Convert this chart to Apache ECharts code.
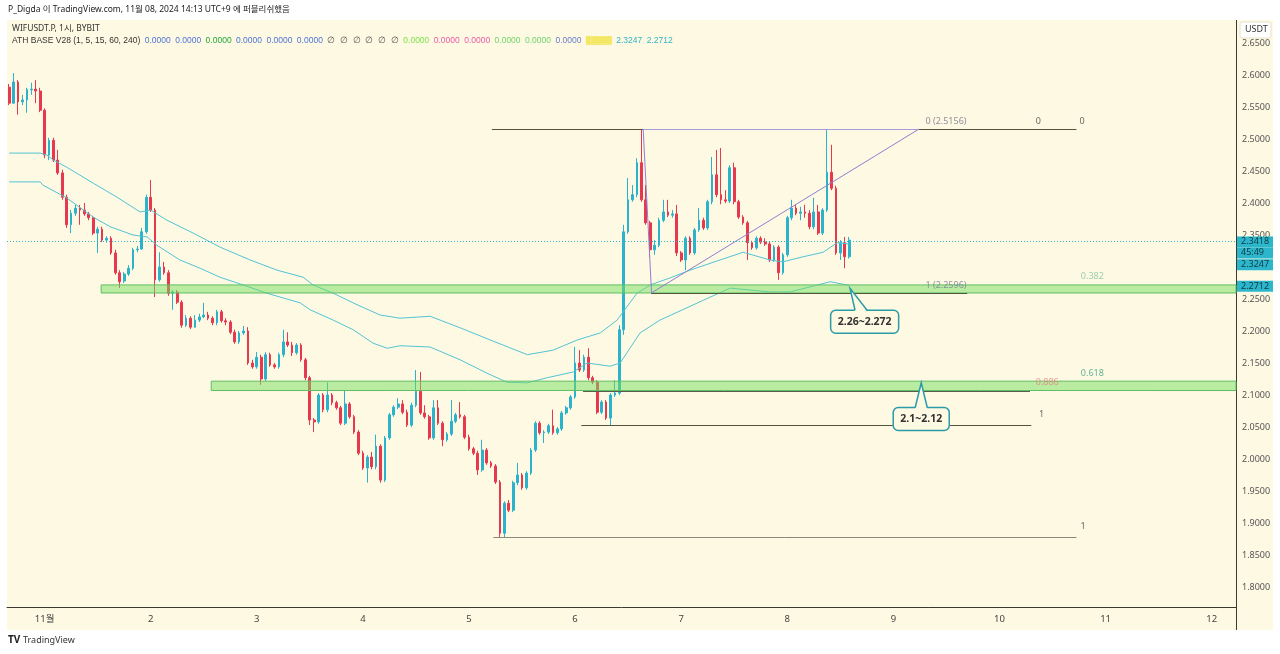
<!DOCTYPE html>
<html>
<head>
<meta charset="utf-8">
<script src="https://cdn.jsdelivr.net/npm/echarts@6/dist/echarts.min.js"></script>
<style>
  html, body { margin: 0; padding: 0; background: #fff; }
  #chart { width: 1280px; height: 654px; }
</style>
</head>
<body>
<div id="chart"></div>
<script>
const FONT = '"Noto Sans", "Noto Sans CJK KR", sans-serif';
const CREAM = '#fdf9e3';
const UP = '#2bb3cc';
const DOWN = '#e6394f';

// x slots: hourly, first slot = Oct 31 16:00 (UTC+9), Nov 1 00:00 is slot 8
const slotCount = 278;
const firstMidnight = 8;
const dayLabels = ['11월', '2', '3', '4', '5', '6', '7', '8', '9', '10', '11', '12'];
const priceTicks = [1.80, 1.85, 1.90, 1.95, 2.00, 2.05, 2.10, 2.15, 2.20, 2.25, 2.30, 2.35, 2.40, 2.45, 2.50, 2.55, 2.60, 2.65];

// WIFUSDT.P 1h candles [open, close, low, high]
const candles = [
  [2.581, 2.556, 2.553, 2.586], [2.556, 2.589, 2.555, 2.603], [2.589, 2.558, 2.538, 2.592], [2.558, 2.561, 2.553, 2.569],
  [2.561, 2.577, 2.541, 2.580], [2.577, 2.578, 2.569, 2.588], [2.578, 2.575, 2.556, 2.592], [2.575, 2.545, 2.542, 2.580],
  [2.545, 2.475, 2.470, 2.548], [2.475, 2.498, 2.467, 2.502], [2.498, 2.467, 2.464, 2.502], [2.467, 2.447, 2.444, 2.483],
  [2.447, 2.409, 2.405, 2.452], [2.409, 2.366, 2.361, 2.413], [2.366, 2.384, 2.353, 2.389], [2.384, 2.392, 2.380, 2.397],
  [2.392, 2.389, 2.366, 2.397], [2.389, 2.383, 2.380, 2.400], [2.383, 2.377, 2.373, 2.386], [2.377, 2.353, 2.350, 2.380],
  [2.353, 2.359, 2.322, 2.363], [2.359, 2.342, 2.339, 2.363], [2.342, 2.345, 2.338, 2.348], [2.345, 2.322, 2.319, 2.348],
  [2.322, 2.291, 2.288, 2.327], [2.291, 2.277, 2.267, 2.295], [2.278, 2.289, 2.275, 2.292], [2.289, 2.298, 2.286, 2.303],
  [2.298, 2.327, 2.295, 2.330], [2.327, 2.328, 2.323, 2.333], [2.328, 2.355, 2.327, 2.361], [2.355, 2.409, 2.352, 2.413],
  [2.409, 2.389, 2.386, 2.436], [2.389, 2.280, 2.253, 2.392], [2.280, 2.300, 2.277, 2.323], [2.300, 2.291, 2.288, 2.308],
  [2.291, 2.259, 2.255, 2.295], [2.259, 2.261, 2.233, 2.264], [2.261, 2.245, 2.242, 2.264], [2.245, 2.209, 2.205, 2.248],
  [2.209, 2.220, 2.206, 2.225], [2.220, 2.206, 2.203, 2.223], [2.206, 2.217, 2.205, 2.225], [2.217, 2.222, 2.214, 2.227],
  [2.222, 2.225, 2.220, 2.244], [2.225, 2.220, 2.217, 2.230], [2.220, 2.213, 2.209, 2.223], [2.213, 2.230, 2.209, 2.233],
  [2.230, 2.216, 2.213, 2.233], [2.216, 2.214, 2.209, 2.220], [2.214, 2.198, 2.195, 2.217], [2.198, 2.183, 2.180, 2.202],
  [2.183, 2.197, 2.180, 2.200], [2.197, 2.200, 2.194, 2.208], [2.200, 2.150, 2.147, 2.206], [2.150, 2.144, 2.141, 2.155],
  [2.144, 2.159, 2.141, 2.167], [2.159, 2.125, 2.116, 2.163], [2.125, 2.163, 2.122, 2.167], [2.163, 2.147, 2.144, 2.166],
  [2.147, 2.144, 2.141, 2.150], [2.144, 2.163, 2.141, 2.166], [2.163, 2.183, 2.159, 2.202], [2.183, 2.178, 2.175, 2.198],
  [2.178, 2.166, 2.161, 2.183], [2.166, 2.178, 2.163, 2.181], [2.178, 2.155, 2.152, 2.181], [2.155, 2.127, 2.123, 2.158],
  [2.127, 2.061, 2.053, 2.130], [2.061, 2.058, 2.042, 2.064], [2.058, 2.100, 2.055, 2.103], [2.100, 2.077, 2.073, 2.103],
  [2.077, 2.100, 2.073, 2.120], [2.100, 2.088, 2.084, 2.103], [2.088, 2.080, 2.077, 2.091], [2.080, 2.056, 2.053, 2.083],
  [2.056, 2.086, 2.053, 2.108], [2.086, 2.066, 2.063, 2.089], [2.066, 2.042, 2.039, 2.069], [2.042, 2.009, 2.006, 2.045],
  [2.009, 1.986, 1.983, 2.013], [1.986, 2.003, 1.963, 2.006], [2.003, 1.988, 1.984, 2.011], [1.988, 2.020, 1.984, 2.038],
  [2.020, 1.967, 1.963, 2.023], [1.967, 2.033, 1.964, 2.036], [2.033, 2.069, 2.030, 2.072], [2.069, 2.081, 2.066, 2.084],
  [2.081, 2.086, 2.078, 2.095], [2.086, 2.073, 2.070, 2.092], [2.073, 2.053, 2.050, 2.077], [2.053, 2.084, 2.050, 2.088],
  [2.084, 2.106, 2.081, 2.139], [2.106, 2.072, 2.069, 2.136], [2.072, 2.066, 2.063, 2.084], [2.066, 2.033, 2.030, 2.069],
  [2.033, 2.080, 2.030, 2.092], [2.080, 2.056, 2.053, 2.092], [2.056, 2.030, 2.020, 2.059], [2.030, 2.039, 2.027, 2.042],
  [2.039, 2.059, 2.036, 2.092], [2.059, 2.069, 2.056, 2.072], [2.069, 2.066, 2.063, 2.089], [2.066, 2.034, 2.031, 2.069],
  [2.034, 2.016, 2.013, 2.038], [2.016, 2.009, 2.006, 2.019], [2.009, 1.983, 1.975, 2.013], [1.983, 2.014, 1.980, 2.030],
  [2.014, 1.994, 1.991, 2.017], [1.994, 1.989, 1.986, 1.997], [1.989, 1.964, 1.961, 1.992], [1.964, 1.884, 1.878, 1.967],
  [1.884, 1.931, 1.878, 1.934], [1.931, 1.920, 1.917, 1.936], [1.920, 1.963, 1.917, 1.966], [1.963, 1.975, 1.959, 1.994],
  [1.975, 1.955, 1.952, 1.978], [1.955, 1.978, 1.952, 1.981], [1.978, 2.014, 1.975, 2.017], [2.014, 2.056, 2.011, 2.059],
  [2.056, 2.041, 2.038, 2.059], [2.041, 2.042, 2.025, 2.045], [2.042, 2.052, 2.039, 2.055], [2.052, 2.041, 2.038, 2.077],
  [2.041, 2.047, 2.038, 2.050], [2.047, 2.072, 2.044, 2.075], [2.072, 2.080, 2.069, 2.083], [2.080, 2.097, 2.077, 2.100],
  [2.097, 2.150, 2.094, 2.175], [2.150, 2.139, 2.136, 2.170], [2.139, 2.159, 2.136, 2.163], [2.159, 2.127, 2.123, 2.173],
  [2.127, 2.120, 2.117, 2.130], [2.120, 2.073, 2.070, 2.123], [2.073, 2.089, 2.070, 2.092], [2.089, 2.064, 2.061, 2.092],
  [2.064, 2.100, 2.053, 2.103], [2.100, 2.103, 2.097, 2.123], [2.103, 2.202, 2.100, 2.209], [2.202, 2.355, 2.194, 2.366],
  [2.355, 2.405, 2.352, 2.439], [2.405, 2.413, 2.402, 2.428], [2.413, 2.463, 2.409, 2.470], [2.463, 2.405, 2.402, 2.5156],
  [2.405, 2.369, 2.366, 2.428], [2.369, 2.327, 2.316, 2.372], [2.327, 2.334, 2.319, 2.342], [2.334, 2.373, 2.331, 2.377],
  [2.373, 2.386, 2.370, 2.405], [2.386, 2.381, 2.378, 2.405], [2.381, 2.383, 2.377, 2.389], [2.383, 2.322, 2.317, 2.397],
  [2.322, 2.311, 2.308, 2.325], [2.311, 2.345, 2.295, 2.348], [2.345, 2.322, 2.319, 2.348], [2.322, 2.358, 2.319, 2.361],
  [2.358, 2.373, 2.355, 2.392], [2.373, 2.361, 2.358, 2.377], [2.361, 2.402, 2.358, 2.405], [2.402, 2.444, 2.398, 2.472],
  [2.444, 2.413, 2.409, 2.483], [2.413, 2.405, 2.398, 2.486], [2.405, 2.403, 2.400, 2.420], [2.403, 2.455, 2.400, 2.459],
  [2.455, 2.402, 2.398, 2.463], [2.402, 2.378, 2.375, 2.405], [2.378, 2.369, 2.366, 2.381], [2.369, 2.338, 2.311, 2.372],
  [2.338, 2.330, 2.327, 2.341], [2.330, 2.345, 2.327, 2.348], [2.345, 2.339, 2.336, 2.348], [2.339, 2.336, 2.333, 2.345],
  [2.336, 2.311, 2.308, 2.339], [2.311, 2.331, 2.308, 2.334], [2.331, 2.291, 2.280, 2.334], [2.291, 2.319, 2.288, 2.322],
  [2.319, 2.377, 2.316, 2.380], [2.377, 2.392, 2.373, 2.405], [2.392, 2.384, 2.381, 2.397], [2.384, 2.386, 2.373, 2.394],
  [2.386, 2.384, 2.377, 2.397], [2.384, 2.363, 2.359, 2.389], [2.363, 2.386, 2.359, 2.408], [2.386, 2.353, 2.350, 2.397],
  [2.353, 2.389, 2.350, 2.392], [2.389, 2.448, 2.386, 2.514], [2.448, 2.423, 2.420, 2.491], [2.423, 2.322, 2.319, 2.427],
  [2.322, 2.338, 2.311, 2.342], [2.338, 2.316, 2.298, 2.347], [2.316, 2.342, 2.313, 2.347]
];

// the two cyan indicator lines, [slot, price]
const bandUpper = [
  [0, 2.478], [7, 2.478], [8.5, 2.475], [10, 2.467], [13, 2.456], [19, 2.431], [24.4, 2.409], [29.6, 2.386],
  [32, 2.389], [35.7, 2.373], [41.6, 2.353], [47.7, 2.331], [54.5, 2.311], [60.6, 2.295], [66.5, 2.284],
  [68.7, 2.272], [73.3, 2.259], [78.7, 2.241], [83.9, 2.225], [88.4, 2.220], [95.2, 2.223], [102, 2.205],
  [108.8, 2.186], [117.2, 2.163], [123, 2.170], [128.5, 2.186], [133.7, 2.197], [137.5, 2.217], [142, 2.259],
  [145, 2.272], [149.5, 2.283], [154, 2.295], [160.8, 2.311], [166, 2.323], [172.1, 2.311], [175, 2.308],
  [179.6, 2.316], [184.1, 2.323], [187.3, 2.338], [190, 2.336]
];
const bandLower = [
  [0, 2.433], [7, 2.433], [7.6, 2.428], [13, 2.408], [19, 2.378], [22.8, 2.363], [28, 2.350], [31.2, 2.347],
  [33.4, 2.334], [38.6, 2.311], [43.2, 2.298], [47.7, 2.284], [52.9, 2.272], [58.3, 2.259], [65.8, 2.244],
  [68.1, 2.233], [73.3, 2.217], [77.8, 2.202], [82.3, 2.181], [85.5, 2.173], [88.4, 2.177], [95.2, 2.175],
  [102, 2.155], [108.1, 2.134], [112.6, 2.120], [117.2, 2.119], [121.7, 2.127], [127.6, 2.136], [130.7, 2.150],
  [135.9, 2.145], [138.2, 2.150], [142.7, 2.197], [147.2, 2.217], [157, 2.248], [163.1, 2.267], [172.1, 2.261],
  [176.6, 2.261], [181.2, 2.269], [185.7, 2.277], [190, 2.2712]
];

const lastPrice = 2.3418;
const upperLast = 2.3247;
const lowerLast = 2.2712;

// green zones (0.382 and 0.618 of the 1.878 -> 2.5156 fib)
const zones = [
  { from: 20.8, to: 277.5, top: 2.272, bottom: 2.2594 },
  { from: 45.7, to: 277.5, top: 2.1216, bottom: 2.107 }
];
// horizontal drawing lines
const levels = [
  { price: 2.5156, from: 109.2, to: 241.4, color: '#55553f' },
  { price: 2.2596, from: 145.2, to: 216.7, color: '#55553f' },
  { price: 2.1058, from: 129.8, to: 230.9, color: '#5a5a50' },
  { price: 2.0531, from: 129.4, to: 231.2, color: '#55553f' },
  { price: 1.878, from: 109.5, to: 241.4, color: '#8a8a7a' }
];
// purple triangle: high -> low -> projection
const triangle = [[143.4, 2.5156], [145.3, 2.2596], [205.8, 2.5156]];

const levelTexts = [
  { at: [211.9, 2.528], text: '0 (2.5156)', color: '#74748a' },
  { at: [232.8, 2.528], text: '0', color: '#444444' },
  { at: [242.7, 2.528], text: '0', color: '#444444' },
  { at: [211.9, 2.2715], text: '1 (2.2596)', color: '#7a7a96' },
  { at: [245, 2.286], text: '0.382', color: '#86c59c' },
  { at: [245, 2.134], text: '0.618', color: '#3d9f88' },
  { at: [234.8, 2.120], text: '0.886', color: '#e58383' },
  { at: [233.5, 2.069], text: '1', color: '#444444' },
  { at: [242.9, 1.894], text: '1', color: '#444444' }
];

const callouts = [
  { text: '2.26~2.272', tip: [190.2, 2.2667], box: [193.5, 2.2145], w: 68, base: [5, 17] },
  { text: '2.1~2.12', tip: [206.3, 2.1192], box: [206.3, 2.0625], w: 56, base: [-6, 6] }
];

const slots = [];
for (let i = 0; i < slotCount; i++) {
  const t = new Date(Date.UTC(2024, 9, 31, 16 + i));
  slots.push((t.getUTCMonth() + 1) + '-' + t.getUTCDate() + ' ' + t.getUTCHours() + ':00');
}

const chart = echarts.init(document.getElementById('chart'));

const legendLine2 = '{t|ATH BASE V28 (1, 5, 15, 60, 240)}  {b|0.0000}  {b|0.0000}  {g|0.0000}  {b|0.0000}  {b|0.0000}  {b|0.0000}  ' +
  '{z|∅  ∅  ∅  ∅  ∅  ∅}  {lg|0.0000}  {p|0.0000}  {p|0.0000}  {g2|0.0000}  {g2|0.0000}  {b2|0.0000}  {y|0.0000}  {c|2.3247}  {c|2.2712}';

const priceBox = { backgroundColor: '#2cb6cb', color: '#103a44', fontSize: 9, padding: [1, 4, 1, 4], width: 28, lineHeight: 11 };
const hidden = { color: 'rgba(0,0,0,0)', width: 0 };

chart.setOption({
  animation: false,
  backgroundColor: '#ffffff',
  textStyle: { fontFamily: FONT },
  grid: { left: 7, right: 44, top: 20, bottom: 47 },
  graphic: [
    { type: 'rect', z: -10, shape: { x: 7, y: 20, width: 1266, height: 610 }, style: { fill: CREAM } },
    { type: 'line', z: -9, shape: { x1: 1236.5, y1: 20, x2: 1236.5, y2: 630 }, style: { stroke: '#3a3a33', lineWidth: 1 } },
    { type: 'text', left: 8, top: 5, style: { text: 'P_Digda 이 TradingView.com, 11월 08, 2024 14:13 UTC+9 에 퍼블리쉬했음', fill: '#222', font: '8.5px ' + FONT } },
    { type: 'text', left: 12, top: 24, z: 10, style: { text: 'WIFUSDT.P, 1시, BYBIT', fill: '#333', font: '8.5px ' + FONT } },
    { type: 'text', left: 12, top: 36, z: 10, style: {
      text: legendLine2, font: '8.5px ' + FONT,
      rich: {
        t: { fill: '#333', fontSize: 8.5 },
        b: { fill: '#4f74d6', fontSize: 8.5 },
        g: { fill: '#22a83c', fontSize: 8.5 },
        z: { fill: '#555', fontSize: 8.5 },
        lg: { fill: '#7ee24c', fontSize: 8.5 },
        p: { fill: '#ea5aa6', fontSize: 8.5 },
        g2: { fill: '#6fd66b', fontSize: 8.5 },
        b2: { fill: '#6a7ccc', fontSize: 8.5 },
        y: { fill: '#f2e34a', backgroundColor: '#f4ea76', fontSize: 8.5 },
        c: { fill: '#36b4c4', fontSize: 8.5 }
      }
    } },
    { type: 'rect', z: 10, shape: { x: 1240, y: 22, width: 31, height: 16, r: 2 }, style: { fill: '#ffffff', stroke: '#e6e2cc' } },
    { type: 'text', z: 11, left: 1245, top: 25, style: { text: 'USDT', fill: '#333', font: '9px ' + FONT } },
    { type: 'text', left: 8, top: 635, style: { text: 'TV', fill: '#222', font: 'bold 10px ' + FONT } },
    { type: 'text', left: 23, top: 636, style: { text: 'TradingView', fill: '#333', font: '9px ' + FONT } }
  ],
  xAxis: [
    {
      type: 'category', data: slots, boundaryGap: true,
      axisLine: { lineStyle: { color: '#3a3a33' } },
      axisTick: { show: false },
      splitLine: { show: false },
      axisLabel: {
        interval: (idx) => idx >= firstMidnight && (idx - firstMidnight) % 24 === 0,
        formatter: (v, idx) => dayLabels[(idx - firstMidnight) / 24],
        color: '#444', fontSize: 9.5, margin: 8
      }
    },
    { type: 'value', show: false, min: -0.5, max: slotCount - 0.5 }
  ],
  yAxis: {
    type: 'value', position: 'right', min: 1.76875, max: 2.68594,
    axisLine: { show: false },
    axisTick: { show: false },
    splitLine: { show: false },
    axisLabel: { customValues: priceTicks, formatter: v => v.toFixed(4), color: '#555', fontSize: 9, margin: 6 }
  },
  series: [
    {
      type: 'candlestick', data: candles, barWidth: 2.2,
      itemStyle: { color: UP, color0: DOWN, borderColor: UP, borderColor0: DOWN, borderWidth: 1 },
      markLine: {
        silent: true, symbol: ['none', 'none'], z: 6,
        data: [{
          yAxis: lastPrice,
          lineStyle: { type: [1, 2], color: '#2bb3cc', width: 1 },
          label: {
            show: true, position: 'end', distance: 1,
            formatter: '{g|}\n{v|2.3418}\n{v|45:49}',
            rich: { g: { height: 12 }, v: priceBox }
          }
        }]
      }
    },
    {
      type: 'line', xAxisIndex: 1, data: bandUpper, showSymbol: false, z: 3,
      lineStyle: { color: '#52c4d4', width: 1 },
      markLine: {
        silent: true, symbol: ['none', 'none'], z: 6,
        data: [{
          yAxis: upperLast, lineStyle: hidden,
          label: {
            show: true, position: 'end', distance: 1,
            formatter: '{g|}\n{v|' + upperLast.toFixed(4) + '}',
            rich: { g: { height: 21 }, v: priceBox }
          }
        }]
      }
    },
    {
      type: 'line', xAxisIndex: 1, data: bandLower, showSymbol: false, z: 3,
      lineStyle: { color: '#52c4d4', width: 1 },
      markLine: {
        silent: true, symbol: ['none', 'none'], z: 6,
        data: [{
          yAxis: lowerLast, lineStyle: hidden,
          label: {
            show: true, position: 'end', distance: 1,
            formatter: '{v|' + lowerLast.toFixed(4) + '}',
            rich: { v: priceBox }
          }
        }]
      }
    },
    {
      type: 'line', xAxisIndex: 1, data: [], z: 4,
      markArea: {
        silent: true, z: 4,
        data: zones.map(zn => [
          { coord: [zn.from, zn.top], itemStyle: { color: 'rgba(118,222,96,0.5)', borderColor: '#5fbf63', borderWidth: 1 } },
          { coord: [zn.to, zn.bottom] }
        ])
      },
      markLine: {
        silent: true, symbol: ['none', 'none'], z: 5,
        label: { show: false },
        data: levels.map(l => [
          { coord: [l.from, l.price], lineStyle: { color: l.color, width: 1, type: 'solid' } },
          { coord: [l.to, l.price] }
        ]).concat([
          [{ coord: triangle[0], lineStyle: { color: '#8e80d2', width: 1, type: 'solid' } }, { coord: triangle[1] }],
          [{ coord: triangle[1], lineStyle: { color: '#8e80d2', width: 1, type: 'solid' } }, { coord: triangle[2] }],
          [{ coord: triangle[0], lineStyle: { color: '#a69bdc', width: 1, type: 'solid' } }, { coord: triangle[2] }]
        ])
      }
    },
    {
      type: 'scatter', xAxisIndex: 1, z: 7, symbolSize: 1,
      itemStyle: { color: 'rgba(0,0,0,0)' },
      data: levelTexts.map(t => ({
        value: t.at,
        label: { show: true, position: 'inside', formatter: t.text, color: t.color, fontSize: 9 }
      }))
    },
    {
      type: 'custom', xAxisIndex: 1, z: 8,
      data: callouts.map(c => [c.tip[0], c.tip[1], c.box[0], c.box[1]]),
      renderItem: (params, api) => {
        const c = callouts[params.dataIndex];
        const tip = api.coord([api.value(0), api.value(1)]);
        const mid = api.coord([api.value(2), api.value(3)]);
        const w = c.w, h = 23;
        const x0 = mid[0] - w / 2, y0 = mid[1] - h / 2;
        const b1 = tip[0] + c.base[0], b2 = tip[0] + c.base[1];
        return {
          type: 'group',
          children: [
            { type: 'rect', shape: { x: x0, y: y0, width: w, height: h, r: 5 }, style: { fill: CREAM, stroke: '#2a9ca8', lineWidth: 1.5 } },
            { type: 'polygon', shape: { points: [[b1, y0 + 1.5], [tip[0], tip[1]], [b2, y0 + 1.5]] }, style: { fill: CREAM } },
            { type: 'polyline', shape: { points: [[b1, y0], [tip[0], tip[1]], [b2, y0]] }, style: { stroke: '#2a9ca8', lineWidth: 1.5, fill: null } },
            { type: 'text', style: { text: c.text, x: mid[0], y: mid[1], align: 'center', verticalAlign: 'middle', font: 'bold 10.5px ' + FONT, fill: '#333' } }
          ]
        };
      }
    }
  ]
});
</script>
</body>
</html>
